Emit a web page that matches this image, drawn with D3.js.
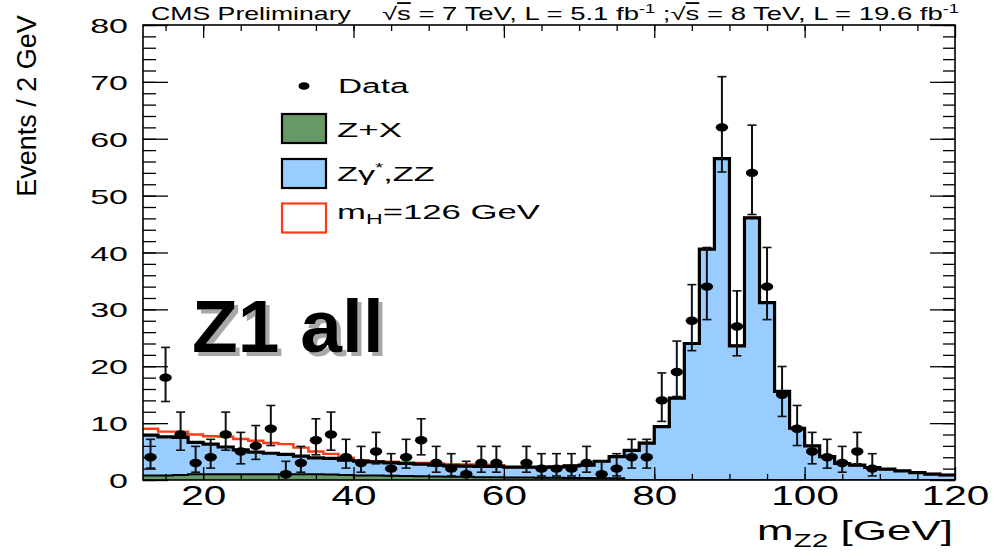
<!DOCTYPE html>
<html>
<head>
<meta charset="utf-8">
<script src="https://cdn.jsdelivr.net/npm/d3@7"></script>
<style>
  html, body { margin: 0; padding: 0; background: #fff; }
  svg { display: block; font-family: "Liberation Sans", Arial, Helvetica, sans-serif; }
</style>
</head>
<body>
<svg id="chart" width="996" height="557"></svg>
<script>
// 2 GeV bins in m_Z2 from 12 to 120 GeV (lower edges)
const binLow = d3.range(12, 120, 2);

// Observed events per bin
const dataCounts = [
  4, 18, 8, 3, 4, 8, 5, 6, 9, 1,
  3, 7, 8, 4, 3, 5, 2, 4, 7, 3,
  2, 1, 3, 3, 0, 3, 2, 2, 2, 3,
  1, 2, 4, 4, 14, 19, 28, 34, 62, 27,
  54, 34, 15, 9, 5, 4, 3, 5, 2, 0,
  0, 0, 0, 0
];

// Reducible background Z+X
const zxYield = [
  0.8, 0.8, 0.9, 1.0, 1.0, 1.0, 1.0, 1.0, 1.0, 1.0,
  1.0, 1.0, 0.95, 0.9, 0.8, 0.8, 0.75, 0.7, 0.65, 0.6,
  0.55, 0.55, 0.5, 0.5, 0.45, 0.45, 0.4, 0.4, 0.35, 0.35,
  0.3, 0.3, 0, 0, 0, 0, 0, 0, 0, 0,
  0, 0, 0, 0, 0, 0, 0, 0, 0, 0,
  0, 0, 0, 0
];

// Irreducible background Zγ*, ZZ
const zzYield = [
  7.1, 6.8, 6.6, 5.6, 5.3, 4.8, 4.3, 3.9, 3.7, 3.5,
  3.2, 2.9, 2.85, 2.6, 2.5, 2.4, 2.25, 2.2, 2.15, 2.0,
  1.95, 1.9, 1.9, 1.9, 1.8, 1.8, 1.85, 1.9, 2.15, 2.25,
  3.0, 3.8, 5.2, 6.5, 9.4, 14.4, 24.0, 40.6, 56.5, 23.6,
  46.1, 31.2, 15.6, 9.1, 6.0, 4.1, 2.9, 2.6, 2.2, 1.9,
  1.6, 1.3, 1.05, 0.88
];

// SM Higgs signal, m_H = 126 GeV
const higgsYield = [
  1.1, 0.9, 1.0, 1.4, 1.4, 1.8, 1.9, 2.0, 1.8, 1.8,
  1.5, 1.1, 0.8, 0.4, 0.2, 0.1, 0.2, 0.2, 0.2, 0.3,
  0.3, 0.3, 0.3, 0.2, 0, 0, 0, 0, 0, 0,
  0, 0, 0, 0, 0, 0, 0, 0, 0, 0,
  0, 0, 0, 0, 0, 0, 0, 0, 0, 0,
  0, 0, 0, 0
];

const xTicksMajor = [20, 40, 60, 80, 100, 120];
const yTicksMajor = [0, 10, 20, 30, 40, 50, 60, 70, 80];

const svg = d3.select("#chart");
const x = d3.scaleLinear().domain([12, 120]).range([143, 955]);
const y = d3.scaleLinear().domain([0, 80]).range([480, 25]);

const C_ZX = "#669966", C_ZZ = "#99ccff", C_H = "#ff3a14";

// drop shadow for the selection tag
const defs = svg.append("defs");
const f = defs.append("filter").attr("id", "tagShadow").attr("x", "-5%").attr("y", "-5%")
  .attr("width", "115%").attr("height", "125%");
f.append("feOffset").attr("in", "SourceAlpha").attr("dx", 4).attr("dy", 4).attr("result", "off");
f.append("feFlood").attr("flood-color", "#a8a8a8").attr("result", "col");
f.append("feComposite").attr("in", "col").attr("in2", "off").attr("operator", "in").attr("result", "shadow");
const fm = f.append("feMerge");
fm.append("feMergeNode").attr("in", "shadow");
fm.append("feMergeNode").attr("in", "SourceGraphic");

defs.append("clipPath").attr("id", "frame")
  .append("rect").attr("x", 143).attr("y", 25).attr("width", 812).attr("height", 455);

// stacked yields per bin
const rows = binLow.map((lo, i) => ({ lo, zx: zxYield[i], zz: zzYield[i], higgs: higgsYield[i] }));
const stack = d3.stack().keys(["zx", "zz", "higgs"])(rows);

// step helpers: append closing edge at 120 GeV
function stepPts(layer, acc) {
  const pts = layer.map((d, i) => ({ e: binLow[i], v: acc(d) }));
  pts.push({ e: 120, v: pts[pts.length - 1].v });
  return pts;
}
const stepLine = d3.line().x(d => x(d.e)).y(d => y(d.v)).curve(d3.curveStepAfter);
const stepArea = d3.area().x(d => x(d.e)).y0(y(0)).y1(d => y(d.v)).curve(d3.curveStepAfter);

const plot = svg.append("g").attr("clip-path", "url(#frame)");

const bkgPts = stepPts(stack[1], d => d[1]);
const zxPts = stepPts(stack[0], d => d[1]);
const totPts = stepPts(stack[2], d => d[1]);

// Zγ*,ZZ fill (from 0 to total background)
plot.append("path").attr("d", stepArea(bkgPts)).attr("fill", C_ZZ);
// signal stacked on top, outline only
plot.append("path").attr("d", stepLine(totPts)).attr("fill", "none")
  .attr("stroke", C_H).attr("stroke-width", 2.4);
// background outline
plot.append("path").attr("d", stepLine(bkgPts)).attr("fill", "none")
  .attr("stroke", "#000").attr("stroke-width", 3.2);
// Z+X
plot.append("path").attr("d", stepArea(zxPts)).attr("fill", C_ZX);
plot.append("path").attr("d", stepLine(zxPts)).attr("fill", "none")
  .attr("stroke", "#000").attr("stroke-width", 2);

// Poisson (Garwood) intervals, Wilson–Hilferty form
function garwood(n) {
  const lo = n === 0 ? 0 : n * Math.pow(1 - 1 / (9 * n) - 1 / (3 * Math.sqrt(n)), 3);
  const m = n + 1;
  const hi = m * Math.pow(1 - 1 / (9 * m) + 1 / (3 * Math.sqrt(m)), 3);
  return [lo, hi];
}

const pts = binLow.map((lo, i) => ({ c: lo + 1, n: dataCounts[i] })).filter(d => d.n > 0);
const gData = plot.append("g");
const eb = gData.selectAll("g.pt").data(pts).join("g").attr("class", "pt");
eb.each(function (d) {
  const [lo, hi] = garwood(d.n);
  const g = d3.select(this), cx = x(d.c);
  g.append("line").attr("x1", cx).attr("x2", cx).attr("y1", y(lo)).attr("y2", y(hi))
    .attr("stroke", "#111").attr("stroke-width", 2);
  [lo, hi].forEach(v => {
    if (v <= 0.2) return;
    g.append("line").attr("x1", cx - 4.5).attr("x2", cx + 4.5).attr("y1", y(v)).attr("y2", y(v))
      .attr("stroke", "#111").attr("stroke-width", 1.6);
  });
  g.append("ellipse").attr("cx", cx).attr("cy", y(d.n)).attr("rx", 6.2).attr("ry", 4.2).attr("fill", "#000");
});

// ---- axes ----
function stretch(sel, s) {
  sel.each(function () {
    const t = d3.select(this);
    const x0 = +(t.attr("x") || 0);
    t.attr("transform", `translate(${x0},0) scale(${s},1) translate(${-x0},0)`);
  });
}
function styleTicks(g) {
  g.select(".domain").remove();
  g.selectAll("line").attr("stroke", "#000").attr("stroke-width", 1.3);
}

const yMinor = d3.range(0, 81, 2);
const xMinor = d3.range(15, 120, 5);

const axL = svg.append("g").attr("transform", "translate(143,0)")
  .call(d3.axisLeft(y).tickValues(yTicksMajor).tickSizeInner(-25).tickSizeOuter(0).tickPadding(15));
styleTicks(axL);
axL.selectAll("text").attr("font-size", 21).attr("fill", "#000").attr("dy", "0.36em");
stretch(axL.selectAll("text"), 1.62);

styleTicks(svg.append("g").attr("transform", "translate(143,0)")
  .call(d3.axisLeft(y).tickValues(yMinor).tickSizeInner(-13).tickSizeOuter(0).tickFormat("")));
styleTicks(svg.append("g").attr("transform", "translate(955,0)")
  .call(d3.axisRight(y).tickValues(yTicksMajor).tickSizeInner(-25).tickSizeOuter(0).tickFormat("")));
styleTicks(svg.append("g").attr("transform", "translate(955,0)")
  .call(d3.axisRight(y).tickValues(yMinor).tickSizeInner(-12).tickSizeOuter(0).tickFormat("")));

const axB = svg.append("g").attr("transform", "translate(0,480)")
  .call(d3.axisBottom(x).tickValues(xTicksMajor).tickSizeInner(-13).tickSizeOuter(0).tickPadding(6));
styleTicks(axB);
axB.selectAll("text").attr("font-size", 27).attr("fill", "#000");
stretch(axB.selectAll("text"), 1.5);

styleTicks(svg.append("g").attr("transform", "translate(0,480)")
  .call(d3.axisBottom(x).tickValues(xMinor).tickSizeInner(-6).tickSizeOuter(0).tickFormat("")));
styleTicks(svg.append("g").attr("transform", "translate(0,25)")
  .call(d3.axisTop(x).tickValues(xTicksMajor).tickSizeInner(-13).tickSizeOuter(0).tickFormat("")));
styleTicks(svg.append("g").attr("transform", "translate(0,25)")
  .call(d3.axisTop(x).tickValues(xMinor).tickSizeInner(-6).tickSizeOuter(0).tickFormat("")));

// frame
svg.append("rect").attr("x", 143).attr("y", 25).attr("width", 812).attr("height", 455)
  .attr("fill", "none").attr("stroke", "#000").attr("stroke-width", 1.6);

// fit a text element horizontally to a target width, anchored at its x
function fitWidth(t, target) {
  const x0 = +(t.attr("x") || 0);
  const w = t.node().getBBox().width;
  const s = target / w;
  t.attr("transform", `translate(${x0},0) scale(${s},1) translate(${-x0},0)`);
}

// ---- header ----
const h1 = svg.append("text").attr("x", 151).attr("y", 20).attr("font-size", 18).text("CMS Preliminary");
fitWidth(h1, 200);
const h2 = svg.append("text").attr("x", 382).attr("y", 20).attr("font-size", 18);
h2.append("tspan").text("√");
h2.append("tspan").attr("text-decoration", "overline").text("s");
h2.append("tspan").text(" = 7 TeV, L = 5.1 fb");
h2.append("tspan").attr("font-size", 12).attr("dy", -7).text("-1");
h2.append("tspan").attr("dy", 7).text(" ;√");
h2.append("tspan").attr("text-decoration", "overline").text("s");
h2.append("tspan").text(" = 8 TeV, L = 19.6 fb");
h2.append("tspan").attr("font-size", 12).attr("dy", -7).text("-1");
fitWidth(h2, 578);

// ---- axis titles ----
svg.append("text").attr("transform", "translate(36,106) rotate(-90)")
  .attr("text-anchor", "middle").attr("font-size", 27)
  .text("Events / 2 GeV");

const xt = svg.append("text").attr("x", 757).attr("y", 540).attr("font-size", 28);
xt.append("tspan").text("m");
xt.append("tspan").attr("font-size", 19).attr("dy", 7).text("Z2");
xt.append("tspan").attr("dy", -7).text(" [GeV]");
fitWidth(xt, 196);

// ---- legend ----
const lg = svg.append("g");
lg.append("ellipse").attr("cx", 304).attr("cy", 86).attr("rx", 5.5).attr("ry", 3.8).attr("fill", "#000");
lg.append("rect").attr("x", 282).attr("y", 114).attr("width", 44).attr("height", 29)
  .attr("fill", C_ZX).attr("stroke", "#000").attr("stroke-width", 2.2);
lg.append("rect").attr("x", 282).attr("y", 159).attr("width", 44).attr("height", 29)
  .attr("fill", C_ZZ).attr("stroke", "#000").attr("stroke-width", 2.2);
lg.append("rect").attr("x", 282).attr("y", 203.5).attr("width", 44).attr("height", 29)
  .attr("fill", "#fff").attr("stroke", C_H).attr("stroke-width", 2.2);

const l1 = lg.append("text").attr("x", 338).attr("y", 93).attr("font-size", 21).text("Data");
fitWidth(l1, 71);
const l2 = lg.append("text").attr("x", 337).attr("y", 137).attr("font-size", 21).text("Z+X");
fitWidth(l2, 65);
const l3 = lg.append("text").attr("x", 337).attr("y", 181).attr("font-size", 21);
l3.append("tspan").text("Zγ");
l3.append("tspan").attr("font-size", 13).attr("dy", -9).text("*");
l3.append("tspan").attr("dy", 9).text(",ZZ");
fitWidth(l3, 98);
const l4 = lg.append("text").attr("x", 337).attr("y", 219).attr("font-size", 21);
l4.append("tspan").text("m");
l4.append("tspan").attr("font-size", 14).attr("dy", 5).text("H");
l4.append("tspan").attr("dy", -5).text("=126 GeV");
fitWidth(l4, 203);

// ---- selection label ----
svg.append("text").attr("x", 192).attr("y", 352).attr("font-size", 75).attr("font-weight", "bold")
  .attr("fill", "#000").attr("filter", "url(#tagShadow)").text("Z1 all");
</script>
</body>
</html>
